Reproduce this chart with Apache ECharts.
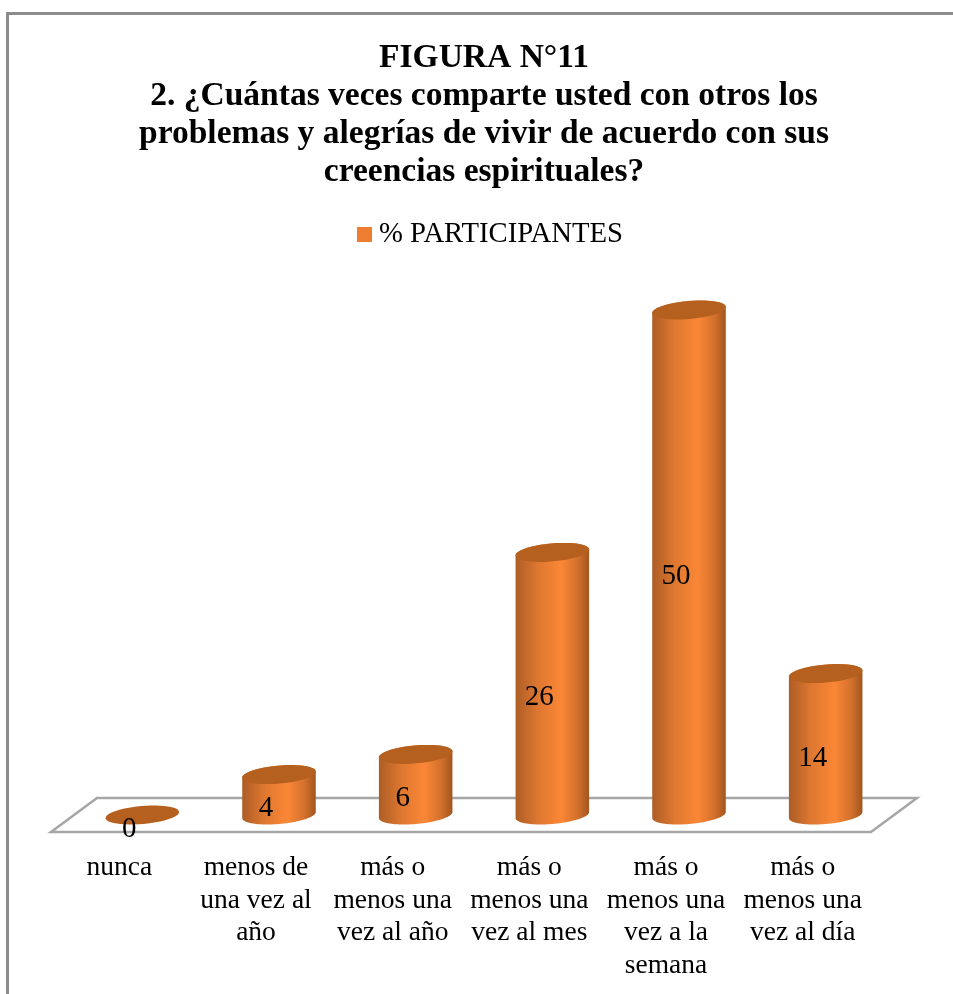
<!DOCTYPE html>
<html>
<head>
<meta charset="utf-8">
<style>html,body{margin:0;padding:0;background:#fff}#chart{width:953px;height:994px}</style>
<script src="https://cdn.jsdelivr.net/npm/echarts@6/dist/echarts.min.js"></script>
</head>
<body>
<div id="chart"></div>
<script>
const titleLines = [
  'FIGURA N°11',
  '2. ¿Cuántas veces comparte usted con otros los',
  'problemas y alegrías de vivir de acuerdo con sus',
  'creencias espirituales?'
];
const seriesName = '% PARTICIPANTES';
const categories = [
  'nunca',
  'menos de\nuna vez al\naño',
  'más o\nmenos una\nvez al año',
  'más o\nmenos una\nvez al mes',
  'más o\nmenos una\nvez a la\nsemana',
  'más o\nmenos una\nvez al día'
];
const participants = [0, 4, 6, 26, 50, 14];

const SERIF = '"Liberation Serif", "Times New Roman", serif';
const FLOOR_DX = 46, FLOOR_DY = 34;   // oblique depth of the floor
const TILT = 5 * Math.PI / 180;
const ELLIPSE_RY = 9;

// Point on a tilted ellipse; parameter t runs clockwise on screen.
function ellipsePoint(cx, cy, a, t) {
  const c = Math.cos(t), s = Math.sin(t);
  return [
    cx + a * c * Math.cos(TILT) + ELLIPSE_RY * s * Math.sin(TILT),
    cy - a * c * Math.sin(TILT) + ELLIPSE_RY * s * Math.cos(TILT)
  ];
}
function arc(cx, cy, a, from, to) {
  const pts = [];
  for (let i = 0; i <= 48; i++) pts.push(ellipsePoint(cx, cy, a, from + (to - from) * i / 48));
  return pts;
}

function renderFloor(params, api) {
  const g = params.coordSys;
  const y = g.y + g.height, l = g.x, r = g.x + g.width;
  return {
    type: 'polygon',
    shape: { points: [[l, y], [r, y], [r + FLOOR_DX, y - FLOOR_DY], [l + FLOOR_DX, y - FLOOR_DY]] },
    style: { fill: '#fff', stroke: '#a6a6a6', lineWidth: 2.5 }
  };
}

function renderCylinder(params, api) {
  const value = api.value(1);
  const base = api.coord([api.value(0), 0]);
  const top = api.coord([api.value(0), value]);
  const cx = base[0] + FLOOR_DX / 2;
  const by = base[1] - FLOOR_DY / 2;
  const ty = top[1] - FLOOR_DY / 2;
  const a = api.size([1, 0])[0] * 0.27;
  const t0 = Math.atan(ELLIPSE_RY * Math.tan(TILT) / a);
  const children = [];
  if (value > 0) {
    children.push({
      type: 'polygon',
      shape: { points: arc(cx, by, a, t0, t0 + Math.PI).concat(arc(cx, ty, a, t0 + Math.PI, t0 + 2 * Math.PI)) },
      style: {
        fill: {
          type: 'linear', x: 0, y: 0, x2: 1, y2: 0,
          colorStops: [
            { offset: 0, color: '#ad5d26' },
            { offset: 0.3, color: '#de7730' },
            { offset: 0.62, color: '#fb8736' },
            { offset: 0.85, color: '#d2702c' },
            { offset: 1, color: '#a2551f' }
          ]
        }
      }
    });
  }
  children.push({
    type: 'polygon',
    shape: { points: arc(cx, ty, a, 0, 2 * Math.PI) },
    style: { fill: '#b5601f' }
  });
  children.push({
    type: 'text',
    style: {
      text: String(value),
      x: cx - 13,
      y: (ty + by) / 2 + 14,
      align: 'center',
      verticalAlign: 'middle',
      font: '29px ' + SERIF,
      fill: '#000'
    }
  });
  return { type: 'group', children };
}

const chart = echarts.init(document.getElementById('chart'), null, { renderer: 'canvas' });
chart.setOption({
  animation: false,
  backgroundColor: '#fff',
  title: {
    text: titleLines.join('\n'),
    left: 479,
    top: 34.5,
    textAlign: 'center',
    textStyle: { fontFamily: SERIF, fontWeight: 'bold', fontSize: 33.5, lineHeight: 38, color: '#000' }
  },
  legend: {
    data: [seriesName],
    left: 352,
    top: 215,
    icon: 'rect',
    itemWidth: 15,
    itemHeight: 15,
    textStyle: { fontFamily: SERIF, fontSize: 28.7, color: '#000', padding: [0, 0, 0, 2] }
  },
  grid: { left: 51, right: 82, top: 327, bottom: 162 },
  xAxis: {
    type: 'category',
    data: categories,
    axisLine: { show: false },
    axisTick: { show: false },
    axisLabel: { interval: 0, margin: 20, fontFamily: SERIF, fontSize: 27.5, lineHeight: 32.5, color: '#000' }
  },
  yAxis: { type: 'value', min: 0, max: 50, show: false },
  graphic: [{
    type: 'polyline',
    silent: true,
    shape: { points: [[7.5, 994], [7.5, 13.5], [953, 13.5]] },
    style: { fill: null, stroke: '#8c8c8c', lineWidth: 3 }
  }],
  series: [
    {
      name: 'floor',
      type: 'custom',
      coordinateSystem: 'cartesian2d',
      silent: true,
      z: 1,
      data: [[0, 0]],
      renderItem: renderFloor
    },
    {
      name: seriesName,
      type: 'custom',
      coordinateSystem: 'cartesian2d',
      z: 2,
      itemStyle: { color: '#ed7d31' },
      encode: { x: 0, y: 1 },
      data: participants.map((v, i) => [i, v]),
      renderItem: renderCylinder
    }
  ]
});
</script>
</body>
</html>
